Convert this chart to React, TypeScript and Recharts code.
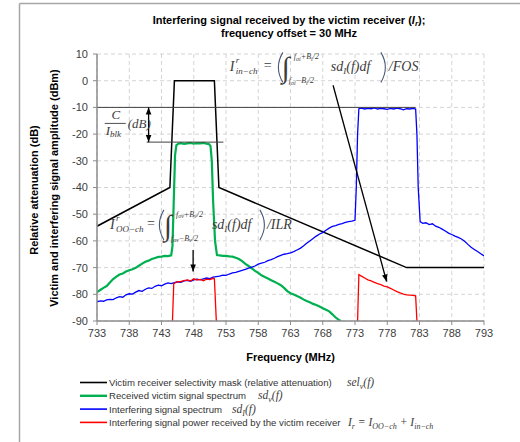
import React from 'react';
import { LineChart, Line, XAxis, YAxis, CartesianGrid, ReferenceLine, ReferenceDot } from 'recharts';

const freqTicks = [733, 738, 743, 748, 753, 758, 763, 768, 773, 778, 783, 788, 793];
const levelTicks = [-90, -80, -70, -60, -50, -40, -30, -20, -10, 0, 10];

// Victim receiver selectivity mask
const maskFreq = [733, 744.3, 745.0, 751.2, 751.9, 781.0, 793];
const maskLevel = [-54.5, -40, 0, 0, -40, -70, -70];

// Received victim signal spectrum
const victimFreq = [733, 733.5, 734, 734.5, 735, 735.5, 736, 736.5, 737, 737.5, 738, 738.5, 739, 739.5, 740, 740.5, 741, 741.5, 742, 742.5, 743, 743.5, 744, 744.5, 744.7, 744.9, 745.1, 745.3, 745.6, 746, 746.5, 747, 747.5, 748, 748.5, 749, 749.5, 750, 750.4, 750.6, 750.8, 751.0, 751.3, 751.6, 752, 752.5, 753, 753.5, 754, 754.5, 755, 755.5, 756, 756.5, 757, 757.5, 758, 758.5, 759, 759.5, 760, 760.5, 761, 761.5, 762, 762.5, 763, 763.5, 764, 764.5, 765, 765.5, 766, 766.5, 767, 767.5, 768, 768.5, 769, 769.5, 770, 770.5, 770.8];
const victimLevel = [-79.2, -78.4, -77.6, -76.9, -75.6, -74.3, -73.4, -72.6, -72.2, -71.5, -71.0, -70.6, -70.1, -69.3, -68.5, -67.8, -67.4, -66.8, -66.4, -66.0, -65.9, -65.6, -65.7, -65.4, -62, -45, -28, -24.2, -23.6, -23.4, -23.7, -23.5, -23.3, -23.6, -23.4, -23.5, -23.3, -23.6, -23.8, -24.5, -30, -45, -60, -65.3, -65.4, -65.6, -65.6, -65.8, -65.9, -66.3, -66.8, -67.6, -68.6, -69.4, -70.3, -71.2, -72.0, -72.9, -73.5, -74.1, -74.7, -75.3, -75.9, -76.6, -77.6, -78.8, -79.6, -80.1, -80.6, -81.2, -81.9, -82.5, -83.0, -83.6, -84.0, -84.6, -85.2, -85.8, -86.4, -87.5, -88.7, -89.6, -90];

// Interfering signal spectrum
const interfFreq = [733, 733.5, 734, 734.5, 735, 735.5, 736, 736.5, 737, 737.5, 738, 738.5, 739, 739.5, 740, 740.5, 741, 741.5, 742, 742.5, 743, 743.5, 744, 744.5, 745, 745.5, 746, 746.5, 747, 747.5, 748, 748.5, 749, 749.5, 750, 750.5, 751, 751.5, 752, 752.5, 753, 753.5, 754, 754.5, 755, 755.5, 756, 756.5, 757, 757.5, 758, 758.5, 759, 759.5, 760, 760.5, 761, 761.5, 762, 762.5, 763, 763.5, 764, 764.5, 765, 765.5, 766, 766.5, 767, 767.5, 768, 768.5, 769, 769.5, 770, 770.5, 771, 771.5, 772, 772.5, 773, 773.2, 773.4, 773.6, 774, 774.5, 775, 775.5, 776, 776.5, 777, 777.5, 778, 778.5, 779, 779.5, 780, 780.5, 781, 781.5, 782, 782.4, 782.6, 782.8, 783.1, 783.5, 784, 784.5, 785, 785.5, 786, 786.5, 787, 787.5, 788, 788.5, 789, 789.5, 790, 790.5, 791, 791.5, 792, 792.5, 793];
const interfLevel = [-82.8, -82.5, -82.6, -82.1, -81.9, -82.0, -81.3, -80.9, -81.1, -80.2, -79.8, -79.9, -79.2, -78.6, -78.9, -78.1, -77.6, -77.8, -77.0, -76.6, -76.8, -76.2, -75.7, -76.0, -75.6, -75.3, -75.5, -75.0, -74.8, -75.1, -74.6, -74.3, -74.6, -74.2, -73.9, -74.1, -73.6, -73.4, -73.2, -72.8, -72.9, -72.4, -72.0, -71.8, -71.4, -71.0, -70.7, -70.2, -69.8, -69.4, -68.7, -68.3, -68.0, -67.4, -67.0, -66.5, -65.9, -65.4, -65.0, -64.8, -64.5, -64.0, -63.4, -62.8, -61.9, -60.9, -60.0, -59.1, -58.2, -57.4, -56.9, -56.0, -55.2, -54.6, -54.3, -53.8, -53.5, -53.1, -52.8, -52.6, -52.3, -40, -20, -10.5, -10.3, -10.6, -10.4, -10.5, -10.2, -10.6, -10.4, -10.5, -10.7, -10.4, -10.6, -10.3, -10.5, -10.9, -10.5, -10.6, -10.4, -10.6, -20, -40, -52.8, -53.4, -53.2, -53.9, -53.6, -54.5, -54.9, -55.6, -56.3, -57.1, -57.6, -58.2, -58.7, -59.3, -60.1, -61.3, -62.4, -63.2, -64.0, -64.8, -65.6];

// Interfering signal power received by the victim receiver (out-of-channel part)
const ooChFreq = [744.7, 744.9, 745.2, 745.5, 746, 746.5, 747, 747.5, 748, 748.5, 749, 749.5, 750, 750.5, 751, 751.2, 751.5];
const ooChLevel = [-90, -76, -75.6, -75.3, -75.2, -74.9, -74.6, -75.0, -74.2, -74.7, -74.4, -74.9, -74.3, -74.5, -74.0, -74.2, -90];

// Interfering signal power received by the victim receiver (in-channel part)
const inChFreq = [773.4, 773.6, 774, 774.5, 775, 775.5, 776, 776.5, 777, 777.5, 778, 778.5, 779, 779.5, 780, 780.5, 781, 781.5, 782, 782.4, 782.6];
const inChLevel = [-90, -72.6, -73.2, -73.9, -74.6, -75.0, -75.5, -76.0, -76.4, -76.9, -77.2, -77.8, -78.4, -79.0, -79.5, -79.9, -80.2, -80.3, -80.4, -80.6, -90];

const rows = (f: number[], v: number[]) => f.map((x, i) => ({ f: x, v: v[i] }));

const SERIF = '"Liberation Serif", "DejaVu Serif", serif';
const SANS = '"Liberation Sans", Arial, sans-serif';
const MATH = '#3c3c3c';

const arrowHead = (x: number, y: number, a: number, key: string) => {
  const L = 7, W = 2.8;
  const bx = x - L * Math.cos(a), by = y - L * Math.sin(a);
  const px = -Math.sin(a) * W, py = Math.cos(a) * W;
  return <polygon key={key} points={`${x},${y} ${bx + px},${by + py} ${bx - px},${by - py}`} fill="#000" />;
};

const arrowShape = (both: boolean) => (props: any) => {
  const { x1, y1, x2, y2 } = props;
  const a = Math.atan2(y2 - y1, x2 - x1);
  return (
    <g>
      <line x1={x1} y1={y1} x2={x2} y2={y2} stroke="#000" strokeWidth={1.3} />
      {arrowHead(x2, y2, a, 'e')}
      {both ? arrowHead(x1, y1, a + Math.PI, 's') : null}
    </g>
  );
};

const plainLine = (props: any) => {
  const { x1, y1, x2, y2 } = props;
  return <line x1={x1} y1={y1} x2={x2} y2={y2} stroke="#404040" strokeWidth={1} />;
};

const paren = (x: number, left: boolean, key: string) => {
  const top = -19, bot = 11, mid = (top + bot) / 2;
  const d = left
    ? `M ${x + 6} ${top} Q ${x - 3} ${mid} ${x + 6} ${bot}`
    : `M ${x} ${top} Q ${x + 9} ${mid} ${x} ${bot}`;
  return <path key={key} d={d} fill="none" stroke="#4a5a78" strokeWidth={1.1} />;
};

const InChFormula = (props: any) => {
  const { cx, cy } = props;
  return (
    <g transform={`translate(${cx},${cy})`} fill={MATH} fontFamily={SERIF} fontStyle="italic">
      <text x={0} y={0} fontSize={14}>I</text>
      <text x={6} y={-8} fontSize={9}>r</text>
      <text x={6} y={3} fontSize={9}>in−ch</text>
      <text x={34} y={-1} fontSize={14} fontStyle="normal">=</text>
      {paren(47, true, 'l')}
      <text x={52} y={6} fontSize={29} fontStyle="normal">∫</text>
      <text x={64} y={-12} fontSize={8}>f<tspan fontSize={6} dy={1.5}>oi</tspan><tspan dy={-1.5}>+B</tspan><tspan fontSize={6} dy={1.5}>i</tspan><tspan dy={-1.5}>/2</tspan></text>
      <text x={59} y={12} fontSize={8}>f<tspan fontSize={6} dy={1.5}>oi</tspan><tspan dy={-1.5}>−B</tspan><tspan fontSize={6} dy={1.5}>i</tspan><tspan dy={-1.5}>/2</tspan></text>
      <text x={101} y={0} fontSize={14}>sd<tspan fontSize={9} dy={3}>I</tspan><tspan dy={-3}>(f)df</tspan></text>
      {paren(151, false, 'r')}
      <text x={159} y={0} fontSize={14}>/FOS</text>
    </g>
  );
};

const OoChFormula = (props: any) => {
  const { cx, cy } = props;
  return (
    <g transform={`translate(${cx},${cy})`} fill={MATH} fontFamily={SERIF} fontStyle="italic">
      <text x={0} y={0} fontSize={14}>I</text>
      <text x={6} y={-8} fontSize={9}>r</text>
      <text x={6} y={3} fontSize={9}>OO−ch</text>
      <text x={37} y={-1} fontSize={14} fontStyle="normal">=</text>
      {paren(48, true, 'l')}
      <text x={54} y={6} fontSize={29} fontStyle="normal">∫</text>
      <text x={66} y={-12} fontSize={8}>f<tspan fontSize={6} dy={1.5}>ov</tspan><tspan dy={-1.5}>+B</tspan><tspan fontSize={6} dy={1.5}>v</tspan><tspan dy={-1.5}>/2</tspan></text>
      <text x={61} y={12} fontSize={8}>f<tspan fontSize={6} dy={1.5}>ov</tspan><tspan dy={-1.5}>−B</tspan><tspan fontSize={6} dy={1.5}>v</tspan><tspan dy={-1.5}>/2</tspan></text>
      <text x={102} y={0} fontSize={14}>sd<tspan fontSize={9} dy={3}>I</tspan><tspan dy={-3}>(f)df</tspan></text>
      {paren(150, false, 'r')}
      <text x={157} y={0} fontSize={14}>/ILR</text>
    </g>
  );
};

const CIblkLabel = (props: any) => {
  const { cx, cy } = props;
  return (
    <g transform={`translate(${cx},${cy})`} fill={MATH} fontFamily={SERIF} fontStyle="italic">
      <text x={11} y={-4} fontSize={13} textAnchor="middle">C</text>
      <line x1={0} y1={0} x2={21} y2={0} stroke={MATH} strokeWidth={0.9} />
      <text x={1} y={12} fontSize={13}>I<tspan fontSize={9} dy={2}>blk</tspan></text>
      <text x={23} y={5} fontSize={13}>(dB)</text>
    </g>
  );
};

const legendItems = [
  { color: '#000000', width: 1.6, label: 'Victim receiver selectivity mask (relative attenuation)', mathX: 347, math: 'sel' },
  { color: '#00b050', width: 2.4, label: 'Received victim signal spectrum', mathX: 258, math: 'sdv' },
  { color: '#0000ff', width: 1.6, label: 'Interfering signal spectrum', mathX: 232, math: 'sdI' },
  { color: '#ff0000', width: 1.6, label: 'Interfering signal power received by the victim receiver', mathX: 348, math: 'Ir' },
];

const legendMath = (kind: string) => {
  if (kind === 'sel') return <>sel<tspan fontSize={8} dy={3}>v</tspan><tspan dy={-3}>(f)</tspan></>;
  if (kind === 'sdv') return <>sd<tspan fontSize={8} dy={3}>v</tspan><tspan dy={-3}>(f)</tspan></>;
  if (kind === 'sdI') return <>sd<tspan fontSize={8} dy={3}>I</tspan><tspan dy={-3}>(f)</tspan></>;
  return (
    <>
      I<tspan fontSize={8} dy={3}>r</tspan><tspan dy={-3}> = I</tspan>
      <tspan fontSize={8} dy={3}>OO−ch</tspan><tspan dy={-3}> + I</tspan>
      <tspan fontSize={8} dy={3}>in−ch</tspan>
    </>
  );
};

export default function App() {
  return (
    <div style={{ position: 'absolute', left: 0, top: 0, width: 520, height: 442, background: '#fff', overflow: 'hidden' }}>
      <svg width={520} height={442} style={{ position: 'absolute', left: 0, top: 0 }}>
        <line x1={19.5} y1={3.5} x2={520} y2={3.5} stroke="#a6a6a6" strokeWidth={1.5} />
        <line x1={19.5} y1={3.5} x2={19.5} y2={442} stroke="#a6a6a6" strokeWidth={1.5} />
        <text x={289} y={24} textAnchor="middle" fontFamily={SANS} fontWeight="bold" fontSize={11} fill="#000">
          Interfering signal received by the victim receiver (<tspan fontStyle="italic">I</tspan><tspan fontSize={8} dy={2} fontStyle="italic">r</tspan><tspan dy={-2}>);</tspan>
        </text>
        <text x={289} y={36.5} textAnchor="middle" fontFamily={SANS} fontWeight="bold" fontSize={11} fill="#000">frequency offset = 30 MHz</text>
        <text transform="translate(38,190) rotate(-90)" textAnchor="middle" fontFamily={SANS} fontWeight="bold" fontSize={11} fill="#000">Relative attenuation (dB)</text>
        <text transform="translate(58,188) rotate(-90)" textAnchor="middle" fontFamily={SANS} fontWeight="bold" fontSize={11} fill="#000">Victim and interfering signal amplitude (dBm)</text>
        {legendItems.map((it, i) => {
          const y = 382.5 + i * 13.3;
          return (
            <g key={i}>
              <line x1={80} y1={y} x2={107} y2={y} stroke={it.color} strokeWidth={it.width} />
              <text x={109} y={y + 3.4} fontFamily={SANS} fontSize={9.6} fill="#333">{it.label}</text>
              <text x={it.mathX} y={y + 3.6} fontFamily={SERIF} fontStyle="italic" fontSize={11.5} fill={MATH}>{legendMath(it.math)}</text>
            </g>
          );
        })}
      </svg>
      <div style={{ position: 'absolute', left: 0, top: 0 }}>
        <LineChart width={520} height={442} margin={{ top: 54, right: 36, bottom: 91, left: 0 }}>
          <CartesianGrid stroke="#d4d4d4" strokeDasharray="4 3" />
          <XAxis
            dataKey="f"
            type="number"
            domain={[733, 793]}
            ticks={freqTicks}
            allowDataOverflow
            height={30}
            tickSize={4}
            tickMargin={4}
            tick={{ fontSize: 11, fill: '#404040', fontFamily: SANS }}
            axisLine={{ stroke: '#8c8c8c', strokeWidth: 1.5 }}
            tickLine={{ stroke: '#8c8c8c' }}
            label={{ value: 'Frequency (MHz)', position: 'insideBottom', offset: -10, style: { fontSize: 11, fontWeight: 'bold', fill: '#000', fontFamily: SANS } }}
          />
          <YAxis
            type="number"
            domain={[-90, 10]}
            ticks={levelTicks}
            allowDataOverflow
            width={97}
            tickSize={4}
            tickMargin={5}
            tick={{ fontSize: 11, fill: '#404040', fontFamily: SANS }}
            axisLine={{ stroke: '#8c8c8c', strokeWidth: 1.5 }}
            tickLine={{ stroke: '#8c8c8c' }}
          />
          <Line data={rows(maskFreq, maskLevel)} dataKey="v" stroke="#000000" strokeWidth={1.5} dot={false} isAnimationActive={false} />
          <Line data={rows(victimFreq, victimLevel)} dataKey="v" stroke="#00b050" strokeWidth={2.2} dot={false} isAnimationActive={false} />
          <Line data={rows(interfFreq, interfLevel)} dataKey="v" stroke="#0000ff" strokeWidth={1.3} dot={false} isAnimationActive={false} />
          <Line data={rows(ooChFreq, ooChLevel)} dataKey="v" stroke="#ff0000" strokeWidth={1.3} dot={false} isAnimationActive={false} />
          <Line data={rows(inChFreq, inChLevel)} dataKey="v" stroke="#ff0000" strokeWidth={1.3} dot={false} isAnimationActive={false} />
          <ReferenceLine segment={[{ x: 733, y: -10 }, { x: 782.4, y: -10 }]} shape={plainLine} />
          <ReferenceLine segment={[{ x: 740.7, y: -23 }, { x: 752.6, y: -23 }]} shape={plainLine} />
          <ReferenceLine segment={[{ x: 741, y: -10 }, { x: 741, y: -23 }]} shape={arrowShape(true)} />
          <ReferenceLine segment={[{ x: 769.6, y: -1.7 }, { x: 777.9, y: -75.2 }]} shape={arrowShape(false)} />
          <ReferenceLine segment={[{ x: 747.9, y: -63.4 }, { x: 747.9, y: -71.5 }]} shape={arrowShape(false)} />
          <ReferenceDot x={753.6} y={3.5} r={0} shape={InChFormula} />
          <ReferenceDot x={735} y={-55.5} r={0} shape={OoChFormula} />
          <ReferenceDot x={734.2} y={-16} r={0} shape={CIblkLabel} />
        </LineChart>
      </div>
    </div>
  );
}
